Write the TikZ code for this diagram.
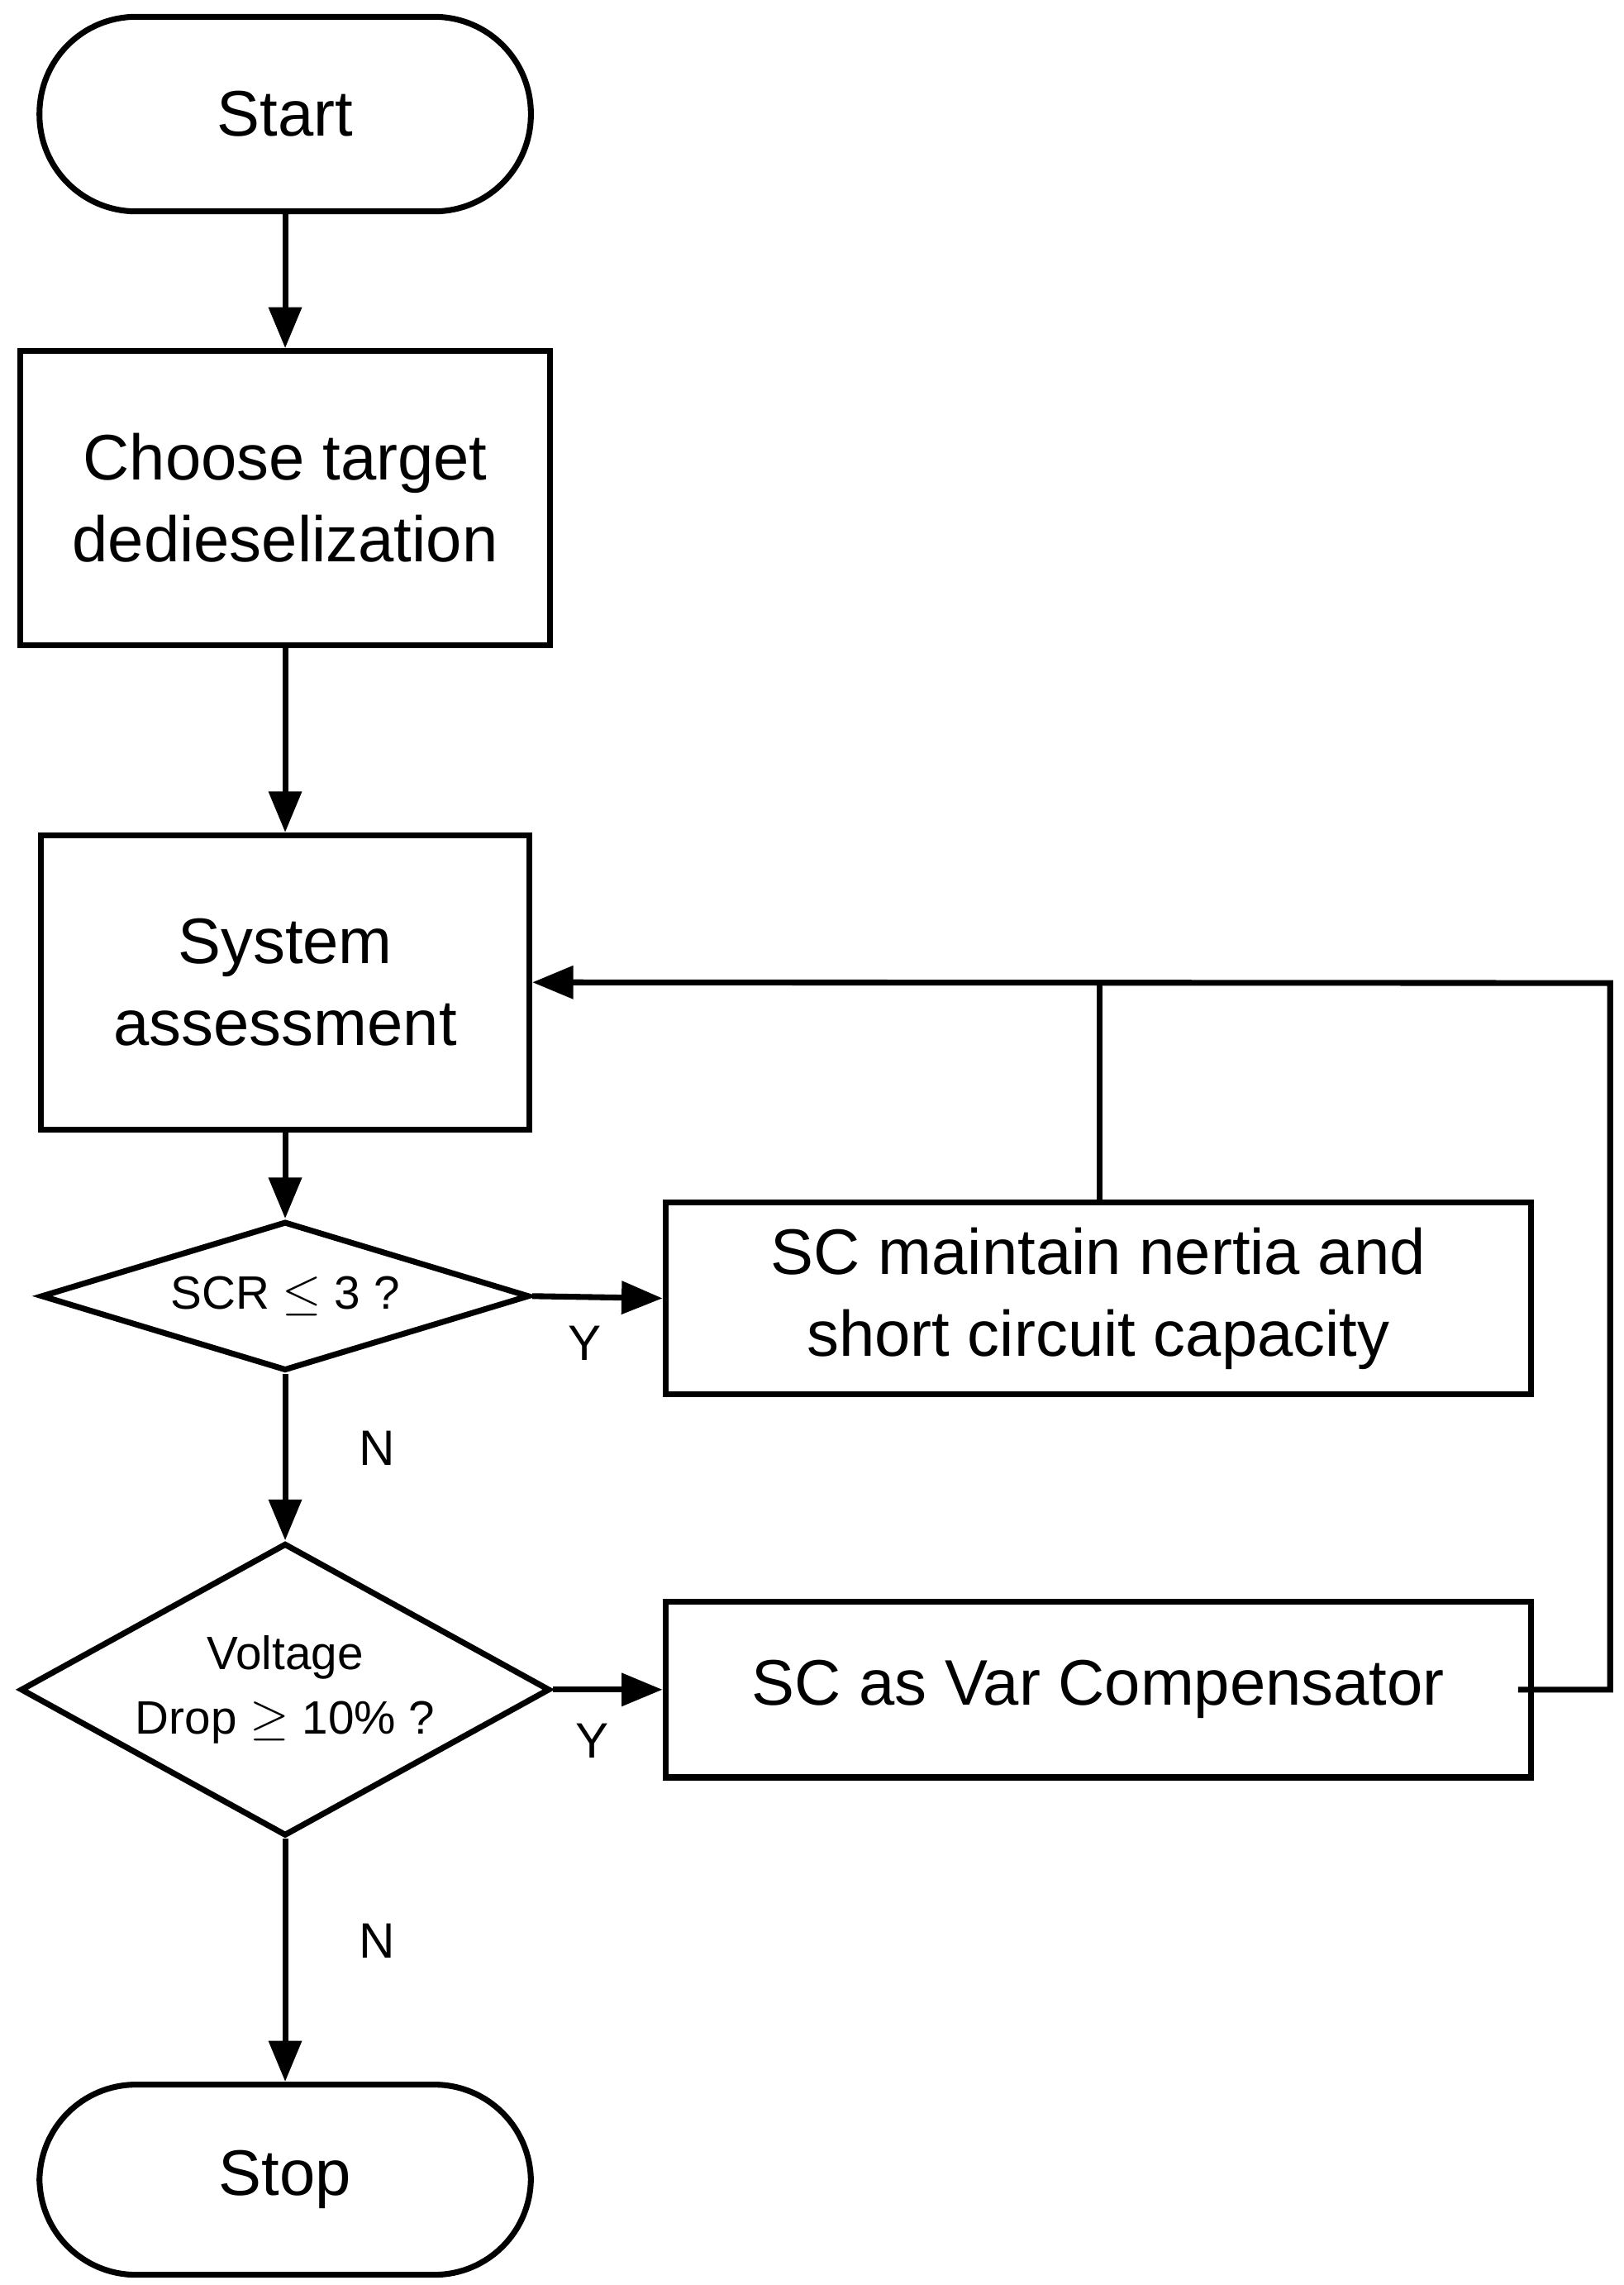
\documentclass[tikz,border=0pt]{standalone}
\usepackage{fontspec}
\setmainfont{Liberation Sans}
\usetikzlibrary{shapes.geometric,arrows.meta}
\begin{document}
\begin{tikzpicture}[x=0.5pt,y=-0.5pt,
  line width=2pt,
  arr/.style={-{Triangle[length=14pt,width=11pt]}},
  box/.style={draw,inner sep=0pt,align=center,font=\fontsize{22}{28}\selectfont},
  dtext/.style={align=center,font=\fontsize{16}{22}\selectfont},
  lbl/.style={font=\fontsize{17}{20}\selectfont}]
\useasboundingbox (0,0) rectangle (1110,1562);
\node[box,rounded corners=33pt,minimum width=168pt,minimum height=66.5pt] (start) at (195,78) {Start};
\node[box,minimum width=181pt,minimum height=100.5pt] (choose) at (195,340.5) {Choose target\\dedieselization};
\node[box,minimum width=167pt,minimum height=100.5pt] (sys) at (195,671.5) {System\\assessment};
\node[draw,diamond,aspect=3.3,minimum width=167pt,minimum height=51pt,inner sep=0pt] (d1) at (195,886) {};
\node[dtext] at (195,886) {SCR $\leq$ 3 ?};
\node[box,minimum width=296pt,minimum height=65.5pt] (scm) at (751,887.5) {SC maintain nertia and\\short circuit capacity};
\node[draw,diamond,aspect=1.81,minimum width=181pt,minimum height=100pt,inner sep=0pt] (d2) at (195,1155) {};
\node[dtext] at (195,1155) {Voltage\\Drop $\geq$ 10\% ?};
\node[box,minimum width=296pt,minimum height=60pt] (scv) at (751,1155) {SC as Var Compensator};
\node[box,rounded corners=33pt,minimum width=168pt,minimum height=65pt] (stop) at (195,1490) {Stop};
\coordinate (j) at (752,672);
\coordinate (r1) at (1101,672);
\coordinate (r2) at (1101,1155);
\coordinate (e) at (1038,1155);
\draw[arr] (start) -- (choose);
\draw[arr] (choose) -- (sys);
\draw[arr] (sys) -- (d1);
\draw[arr] (d1) -- (d2);
\draw[arr] (d2) -- (stop);
\draw[arr] (d1.east) -- (scm.west);
\draw[arr] (d2.east) -- (scv.west);
\draw (scm.north -| j) -- (j);
\draw[arr] (e) -- (r2) -- (r1) -- (sys.east);
\node[lbl] at (400,918) {Y};
\node[lbl] at (405,1190) {Y};
\node[lbl] at (258,990) {N};
\node[lbl] at (258,1327) {N};
\end{tikzpicture}
\end{document}
